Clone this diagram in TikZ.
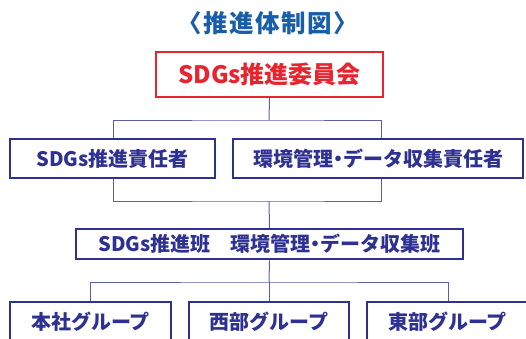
\documentclass[tikz,border=0pt]{standalone}
\usepackage{fontspec}
\newfontfamily\jp{Noto Sans CJK JP}
\newfontfamily\jptitle{Noto Sans CJK JP}[LetterSpace=6]
\definecolor{navy}{HTML}{2E3192}
\definecolor{conncol}{HTML}{5C5FA6}
\definecolor{redc}{HTML}{E8242E}
\definecolor{titleblue}{HTML}{1A5EA8}
\newcommand{\hdot}{\hbox to 0.5em{\hss・\hss}}
\tikzset{
  box/.style={draw=navy, line width=2.5pt, text=navy, inner sep=0pt, font=\jp\bfseries\fontsize{20}{20}\selectfont},
  topbox/.style={draw=redc, line width=2pt, text=redc, inner sep=0pt, font=\jp\bfseries\fontsize{24}{24}\selectfont},
  conn/.style={draw=conncol, line width=1pt},
}
\begin{document}
\begin{tikzpicture}[x=1pt,y=-1pt]
\useasboundingbox (0,0) rectangle (526,338);
\node[text=titleblue, font=\jptitle\bfseries\fontsize{24.5}{24.5}\selectfont] (title) at (268,23) {〈推進体制図〉};
\node[topbox, minimum width=227pt, minimum height=45pt] (top) at (269.5,74.5) {SDGs推進委員会};
\node[box, minimum width=205pt, minimum height=39pt] (a) at (112.5,158.5) {SDGs推進責任者};
\node[box, minimum width=290pt, minimum height=39pt] (b) at (378,158.5) {環境管理\hdot データ収集責任者};
\node[box, minimum width=387pt, minimum height=30pt] (mid) at (269.5,244) {SDGs推進班　環境管理\hdot データ収集班};
\node[box, minimum width=161pt, minimum height=40pt] (g1) at (90.5,322) {本社グループ};
\node[box, minimum width=160pt, minimum height=40pt] (g2) at (269,322) {西部グループ};
\node[box, minimum width=161pt, minimum height=40pt] (g3) at (447.5,322) {東部グループ};
\coordinate (j1) at (269,120);
\coordinate (j2) at (269,201);
\coordinate (j3) at (269,282);
\draw[conn] (top.south) -- (j1);
\draw[conn] ([xshift=0.5pt]a.north) |- (j1) -| ([xshift=3pt]b.north);
\draw[conn] ([xshift=0.5pt]a.south) |- (j2) -| ([xshift=3pt]b.south);
\draw[conn] (j2) -- (mid.north);
\draw[conn] (mid.south) -- (j3);
\draw[conn] ([xshift=-0.5pt]g1.north) |- (j3) -| ([xshift=0.5pt]g3.north);
\draw[conn] (j3) -- (g2.north);
\end{tikzpicture}
\end{document}
